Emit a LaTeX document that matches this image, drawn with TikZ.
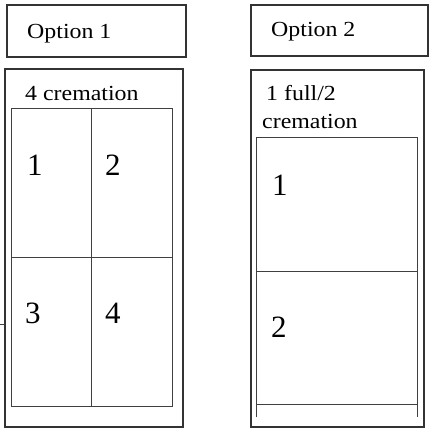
\documentclass[tikz,border=0pt]{standalone}
\usepackage{fontspec}
\setmainfont{Liberation Serif}
\begin{document}
\begin{tikzpicture}[x=1pt,y=-1pt,
  frame/.style={draw=black!80,line width=1.1pt},
  grid/.style={draw=black!75,line width=0.9pt},
  lbl/.style={anchor=base west,inner sep=0pt,font=\fontsize{21.5}{25}\selectfont,xscale=1.11},
  num/.style={anchor=base west,inner sep=0pt,font=\fontsize{31}{35}\selectfont}]
\useasboundingbox (0,0) rectangle (429,429);
% Option 1 column
\draw[frame] (7,5) rectangle (186,57);
\node[lbl] (opt1) at (27,38) {Option 1};
\draw[frame] (5,69) rectangle (183,427);
\node[lbl] (crem1) at (25,100) {4 cremation};
\draw[grid] (11,108) rectangle (172,406);
\draw[grid] (91,108) -- (91,406);
\draw[grid] (11,257) -- (172,257);
\node[num] (c1) at (27,175) {1};
\node[num] (c2) at (105,175) {2};
\node[num] (c3) at (25,323) {3};
\node[num] (c4) at (105,323) {4};
\coordinate (tickL) at (0,324);
\coordinate (tickR) at (5,324);
\draw[grid] (tickL) -- (tickR);
% Option 2 column
\draw[frame] (251,5) rectangle (428,56);
\node[lbl] (opt2) at (271,36) {Option 2};
\draw[frame] (251,70) rectangle (424,427);
\node[lbl] (crem2a) at (266,100) {1 full/2};
\node[lbl] (crem2b) at (262,128) {cremation};
\draw[grid] (256,417) -- (256,137) -- (417,137) -- (417,417);
\draw[grid] (256,271) -- (417,271);
\draw[grid] (256,404) -- (417,404);
\node[num] (d1) at (272,195) {1};
\node[num] (d2) at (271,337) {2};
\end{tikzpicture}
\end{document}
